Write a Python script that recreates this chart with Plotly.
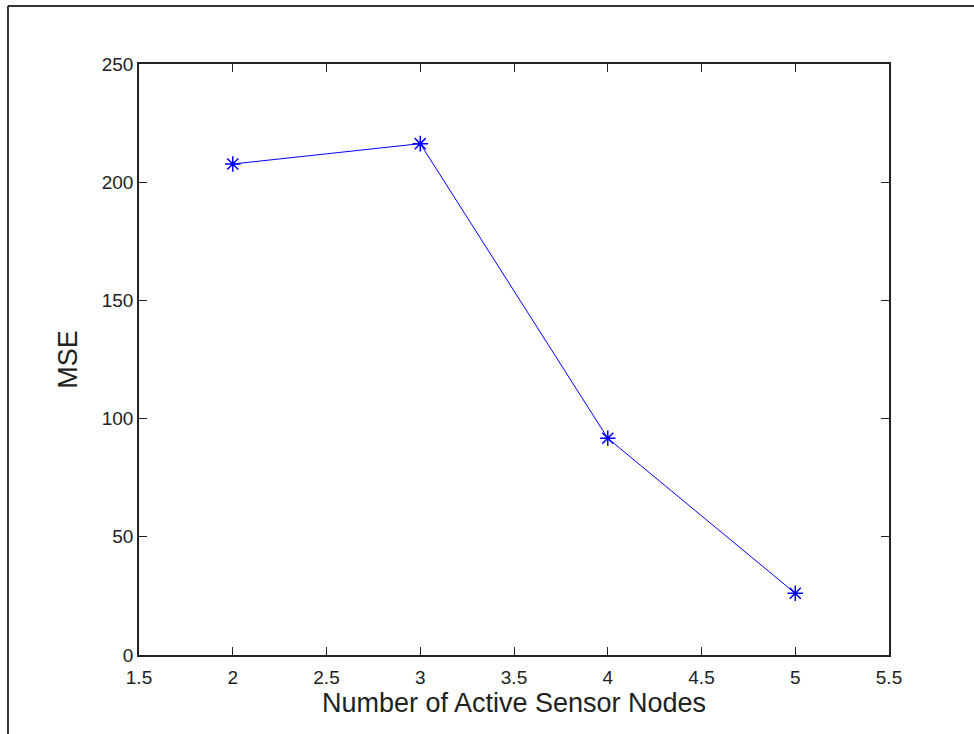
import plotly.graph_objects as go

# Number of active sensor nodes vs. mean squared error
nodes = [2, 3, 4, 5]
mse = [207.7, 216.3, 91.7, 26.1]

x_ticks = [1.5, 2, 2.5, 3, 3.5, 4, 4.5, 5, 5.5]
x_tick_text = ["1.5", "2", "2.5", "3", "3.5", "4", "4.5", "5", "5.5"]
y_ticks = [0, 50, 100, 150, 200, 250]

fig = go.Figure()
fig.add_trace(go.Scatter(
    x=nodes, y=mse,
    mode="lines+markers",
    line=dict(color="#0000FF", width=1),
    marker=dict(symbol="asterisk-open", size=13,
                line=dict(color="#0000FF", width=1.5), color="#0000FF"),
    showlegend=False,
))

FONT = "Liberation Sans, Arial, sans-serif"
axis_font = dict(family=FONT, size=19, color="#222222")
title_font = dict(family=FONT, size=27, color="#222222")
common = dict(
    showgrid=False, zeroline=False, showline=True, linecolor="#222222", linewidth=1.5,
    mirror="ticks", ticks="inside", ticklen=8, tickcolor="#222222", tickwidth=1,
    tickfont=axis_font,
)

fig.update_xaxes(range=[1.5, 5.5], tickvals=x_ticks, ticktext=x_tick_text,
                 ticklabelstandoff=4,
                 title=dict(text="Number of Active Sensor Nodes", font=title_font, standoff=6),
                 **common)
fig.update_yaxes(range=[0, 250], tickvals=y_ticks,
                 title=dict(text="MSE", font=title_font, standoff=16),
                 **common)

# Outer frame lines (top and left)
frame = dict(color="#333333", width=2)
fig.add_shape(type="line", xref="paper", yref="paper",
              x0=-0.1747, x1=1.2, y0=1.098, y1=1.098, line=frame)
fig.add_shape(type="line", xref="paper", yref="paper",
              x0=-0.1747, x1=-0.1747, y0=-0.2, y1=1.098, line=frame)

fig.update_layout(
    width=974, height=734,
    margin=dict(l=139, r=85, t=64, b=79),
    paper_bgcolor="white", plot_bgcolor="white",
)

fig.write_html("out.html")
